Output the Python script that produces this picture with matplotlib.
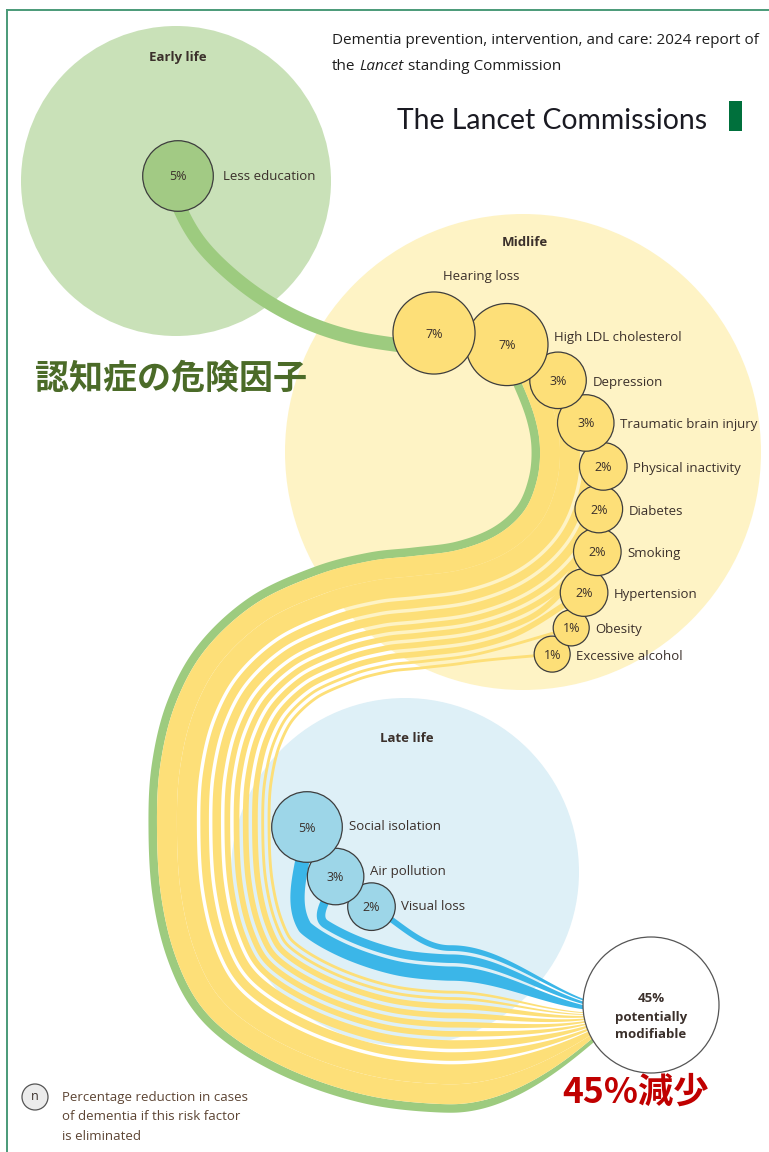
import numpy as np
import matplotlib
matplotlib.use("Agg")
import matplotlib.pyplot as plt
from matplotlib.patches import Circle, Polygon, Rectangle
from matplotlib import font_manager

# ---- data ----
STAGES = ["Early life", "Midlife", "Late life"]
EARLY_FACTORS = ["Less education"]
EARLY_PCT = [5]
MID_FACTORS = ["Hearing loss", "High LDL cholesterol", "Depression", "Traumatic brain injury",
               "Physical inactivity", "Diabetes", "Smoking", "Hypertension", "Obesity",
               "Excessive alcohol"]
MID_PCT = [7, 7, 3, 3, 2, 2, 2, 2, 1, 1]
LATE_FACTORS = ["Social isolation", "Air pollution", "Visual loss"]
LATE_PCT = [5, 3, 2]
TOTAL_PCT = sum(EARLY_PCT) + sum(MID_PCT) + sum(LATE_PCT)

TITLE_1 = "Dementia prevention, intervention, and care: 2024 report of"
TITLE_2 = ["the", "Lancet", "standing Commission"]
BRAND = "The Lancet Commissions"
HEAD_JP = "認知症の危険因子"
RESULT_JP = f"{TOTAL_PCT}%減少"
TOTAL_TXT = f"{TOTAL_PCT}%\npotentially\nmodifiable"
LEGEND_TXT = "Percentage reduction in cases\nof dementia if this risk factor\nis eliminated"

# ---- layout (pixels) ----
W, H = 769, 1152
STAGE_BG = [((176, 181), 155, "#c9e1b8"), ((523, 452), 238, "#fef3c5"), ((405, 872), 174, "#def0f7")]
STAGE_LABEL_DY = [32, 28, 40]
EARLY_START = (178, 176)
MID_START, MID_ANGLES = (434, 333), [9, 35, 57, 68, 96, 92, 108, 110, 126]
LATE_START, LATE_ANGLES = (307, 827), [60, 40]
TOTAL_C, TOTAL_R = (651, 1005), 68
# guide of the ribbon edge between the green band and the yellow bands
GUIDE = [(178, 176), (186, 205), (205, 238), (234, 268), (270, 295), (310, 316), (352, 330),
         (398, 338), (445, 343), (488, 352), (512, 366), (523, 386), (535, 418), (540, 448),
         (537, 480), (524, 511), (497, 535), (458, 550), (414, 556), (370, 561), (317, 575),
         (255, 604), (205, 650), (175, 705), (160, 767), (157, 830), (161, 895), (175, 955),
         (200, 1005), (240, 1042), (300, 1074), (370, 1096), (440, 1104), (500, 1102)]
# where the bands fan into the total circle
FAN_X, FAN_Y0, FAN_K = 588, 1042, 0.26
FAN_ANGLE = (-40, 20)
PX_PER_PCT = 2.85
GAP = 3.5
BLUE_GAP = 10
LEAD_MID, LEAD_LATE = 50, 170

GREEN, GREEN_C = "#9dcb7f", "#a2ca84"
YELLOW = "#fddf78"
BLUE, BLUE_C = "#3bb6e8", "#9dd6e8"
EDGE = "#3d3d3d"
TXT = "#3b302b"


def pick(*names):
    for n in names:
        try:
            font_manager.findfont(n, fallback_to_default=False)
            return n
        except ValueError:
            pass
    return "DejaVu Sans"


NARROW = pick("Liberation Sans Narrow", "Open Sans", "Noto Sans")
LOGO_FONT = pick("Lato", "Open Sans")
JP = ["Noto Sans CJK JP", "DejaVu Sans"]


def radius(p):
    return 4 + 14 * np.sqrt(p)


def chain(start, pcts, angles, k=0.9):
    pts = [np.array(start, float)]
    for i, a in enumerate(angles):
        d = k * (radius(pcts[i]) + radius(pcts[i + 1]))
        t = np.deg2rad(a)
        pts.append(pts[-1] + d * np.array([np.cos(t), np.sin(t)]))
    return pts


def catmull(points, n=40):
    P = np.asarray(points, float)
    P = np.vstack([2 * P[0] - P[1], P, 2 * P[-1] - P[-2]])
    out = []
    t = np.linspace(0, 1, n, endpoint=False)[:, None]
    for i in range(1, len(P) - 2):
        p0, p1, p2, p3 = P[i - 1], P[i], P[i + 1], P[i + 2]
        out.append(0.5 * (2 * p1 + (p2 - p0) * t + (2 * p0 - 5 * p1 + 4 * p2 - p3) * t ** 2
                          + (3 * p1 - p0 - 3 * p2 + p3) * t ** 3))
    out.append(P[-2][None])
    return np.vstack(out)


def bezier(A, c1, c2, B, n=80):
    t = np.linspace(0, 1, n)[:, None]
    return (1 - t) ** 3 * A + 3 * (1 - t) ** 2 * t * c1 + 3 * (1 - t) * t ** 2 * c2 + t ** 3 * B


def smoothstep(u):
    u = np.clip(u, 0, 1)
    return u * u * (3 - 2 * u)


def smooth(v, k=15):
    return np.convolve(np.pad(v, k // 2, mode="edge"), np.ones(k) / k, "valid")


# spine resampled at 1 px
raw = catmull(GUIDE)
d = np.r_[0, np.cumsum(np.hypot(*np.diff(raw, axis=0).T))]
s = np.arange(0, d[-1], 1.0)
sx, sy = np.interp(s, d, raw[:, 0]), np.interp(s, d, raw[:, 1])
sx, sy = smooth(sx, 9), smooth(sy, 9)
tx, ty = smooth(np.gradient(sx)), smooth(np.gradient(sy))
nrm = np.hypot(tx, ty)
tx, ty = tx / nrm, ty / nrm
nx, ny = ty, -tx  # left of travel

# fan starts at the lowest point of the spine's last bend
low = s > s[-1] - 250
i_f = np.flatnonzero(low)[np.argmax(sy[low])]
s_f = s[i_f]

fig = plt.figure(figsize=(W / 100, H / 100), dpi=100)
ax = fig.add_axes([0, 0, 1, 1])
ax.set_xlim(0, W)
ax.set_ylim(H, 0)
ax.axis("off")
rend = fig.canvas.get_renderer()


def fit(t, width):
    w = t.get_window_extent(renderer=rend).width
    t.set_fontsize(t.get_fontsize() * width / w)
    return t


# frame
ax.plot([7, W], [10, 10], color="#4a9a78", lw=1.4, zorder=0)
ax.plot([7, 7], [10, H], color="#4a9a78", lw=1.4, zorder=0)

# stage background circles
for (c, r, col), name, dy in zip(STAGE_BG, STAGES, STAGE_LABEL_DY):
    ax.add_patch(Circle(c, r, fc=col, ec="none", zorder=1))
    ax.text(c[0] + 2, c[1] - r + dy, name, ha="center", va="center", fontsize=9.5,
            weight="bold", family=NARROW, color=TXT, zorder=30)

TOP = (sum(MID_PCT) + sum(LATE_PCT)) * PX_PER_PCT + GAP * (len(MID_PCT) - 2 + len(LATE_PCT) - 1) + BLUE_GAP


def fan_edge(o):
    """Bezier from the spine offset o at s_f into the total circle."""
    A = np.array([sx[i_f] + nx[i_f] * o, sy[i_f] + ny[i_f] * o])
    dA = np.array([tx[i_f], ty[i_f]])
    B = np.array([FAN_X, FAN_Y0 - o * (FAN_K if o >= 0 else 0.6)])
    th = np.deg2rad(FAN_ANGLE[0] + (FAN_ANGLE[1] - FAN_ANGLE[0]) * np.clip(o / TOP, 0, 1))
    dB = np.array([np.cos(th), np.sin(th)])
    L = np.hypot(*(B - A)) / 3
    pts = bezier(A, A + dA * L, B - dB * L, B)[1:]
    return np.vstack([pts, B + dB * 35])


def start_s(center, c):
    dist = np.hypot(sx + nx * c - center[0], sy + ny * c - center[1])
    return s[np.argmin(dist)]


def band(a, b, center=None, lead=50, color=YELLOW, z=3):
    if center is None:
        m = s <= s_f
        ea, eb = [], []
    else:
        c, h = 0.5 * (a + b), 0.5 * (b - a)
        i_m = int(min(start_s(center, c) + lead, s_f - 5))
        C = np.asarray(center, float)
        M = np.array([sx[i_m] + nx[i_m] * c, sy[i_m] + ny[i_m] * c])
        dM = np.array([tx[i_m], ty[i_m]])
        L = np.hypot(*(M - C)) / 3
        dC = (M - C) / (3 * L)
        q = bezier(C, C + dC * L, M - dM * L, M)[:-1]
        qx, qy = np.gradient(q[:, 0]), np.gradient(q[:, 1])
        qn = np.hypot(qx, qy)
        qnx, qny = qy / qn, -qx / qn
        ea = [np.c_[q[:, 0] - qnx * h, q[:, 1] - qny * h]]
        eb = [np.c_[q[:, 0] + qnx * h, q[:, 1] + qny * h]]
        m = (s >= s[i_m]) & (s <= s_f)
    aa = a(s[m]) if callable(a) else np.full(m.sum(), float(a))
    ea.append(np.c_[sx[m] + nx[m] * aa, sy[m] + ny[m] * aa])
    eb.append(np.c_[sx[m] + nx[m] * b, sy[m] + ny[m] * b])
    ea.append(fan_edge(aa[-1]))
    eb.append(fan_edge(b))
    ea, eb = np.vstack(ea), np.vstack(eb)
    ax.add_patch(Polygon(np.vstack([ea, eb[::-1]]), closed=True, fc=color, ec="none", zorder=z))


mid_pts = chain(MID_START, MID_PCT, MID_ANGLES)
late_pts = chain(LATE_START, LATE_PCT, LATE_ANGLES)

# green band (early life)
s_hear = start_s(mid_pts[0], 10)
green_w = lambda ss: -(8.5 + 5.5 * (1 - smoothstep((ss - s_hear + 20) / 80)))
band(green_w, 0, color=GREEN)

# yellow + blue bands stacked to the left of the green
cur = 0.0
for i, p in enumerate(MID_PCT):
    cur += 0 if i < 2 else GAP
    a, b = cur, cur + p * PX_PER_PCT
    cur = b
    band(a, b, mid_pts[i], LEAD_MID, color=YELLOW, z=4)
cur += BLUE_GAP
for i, p in enumerate(LATE_PCT):
    cur += 0 if i == 0 else GAP
    a, b = cur, cur + p * PX_PER_PCT
    cur = b
    band(a, b, late_pts[i], LEAD_LATE, color=BLUE, z=5)


def risk_circle(c, p, label, fc, z, where="right", pad=8, dy=0):
    r = radius(p)
    ax.add_patch(Circle(c, r, fc=fc, ec=EDGE, lw=0.9, zorder=z))
    ax.text(c[0], c[1] + 1, f"{p}%", ha="center", va="center", fontsize=9,
            family=NARROW, color=TXT, zorder=30)
    if where == "above":
        ax.text(c[0] + r * 1.15, c[1] - r - 15, label, ha="center", va="center",
                fontsize=9.5, family=NARROW, color=TXT, zorder=30)
    else:
        ax.text(c[0] + r + pad, c[1] + dy, label, ha="left", va="center",
                fontsize=9.5, family=NARROW, color=TXT, zorder=30)


risk_circle(EARLY_START, EARLY_PCT[0], EARLY_FACTORS[0], GREEN_C, 20, pad=10)
for i, (c, p, lab) in enumerate(zip(mid_pts, MID_PCT, MID_FACTORS)):
    risk_circle(c, p, lab, YELLOW, 20 - i * 0.1, where="above" if i == 0 else "right",
                pad=6, dy=-7 if i == 1 else 2)
for i, (c, p, lab) in enumerate(zip(late_pts, LATE_PCT, LATE_FACTORS)):
    risk_circle(c, p, lab, BLUE_C, 20 - i * 0.1, pad=6 if i else 7, dy=-5 if i == 1 else 0)

# total circle
ax.add_patch(Circle(TOTAL_C, TOTAL_R, fc="white", ec="#555555", lw=0.9, zorder=21))
ax.text(TOTAL_C[0], TOTAL_C[1] + 12, TOTAL_TXT, ha="center", va="center", fontsize=9.5,
        weight="bold", family=NARROW, color=TXT, linespacing=1.5, zorder=30)
ax.text(TOTAL_C[0] - 15, 1092, RESULT_JP, ha="center", va="center", fontsize=25.5,
        weight="bold", family=JP, color="#c00000", zorder=30)

# heading texts
ax.text(35, 378, HEAD_JP, ha="left", va="center", fontsize=24.5, weight="bold",
        family=JP, color="#4b6b28", zorder=30)
t1 = fit(ax.text(332, 40, TITLE_1, ha="left", va="center", fontsize=11, family=NARROW,
                 color="#1e1e1e", zorder=30), 426)
x = 332
for j, piece in enumerate(TITLE_2):
    t = ax.text(x, 67, piece, ha="left", va="center", fontsize=t1.get_fontsize(), family=NARROW,
                style="italic" if j == 1 else "normal", color="#1e1e1e", zorder=30)
    x += t.get_window_extent(renderer=rend).width + 4
fit(ax.text(397, 121, BRAND, ha="left", va="center", fontsize=21, family=LOGO_FONT,
            color="#1a1a22", zorder=30), 309)
ax.add_patch(Rectangle((729, 101), 13, 30, fc="#00703c", ec="none", zorder=30))

# legend
ax.add_patch(Circle((35, 1097), 13, fc="#ececec", ec="#555555", lw=0.9, zorder=20))
ax.text(35, 1097, "n", ha="center", va="center", fontsize=9, family=NARROW, color=TXT, zorder=30)
ax.text(62, 1117, LEGEND_TXT, ha="left", va="center", fontsize=9.5, family=NARROW,
        color="#5c4433", linespacing=1.6, zorder=30)

fig.savefig("out.png", dpi=100)
